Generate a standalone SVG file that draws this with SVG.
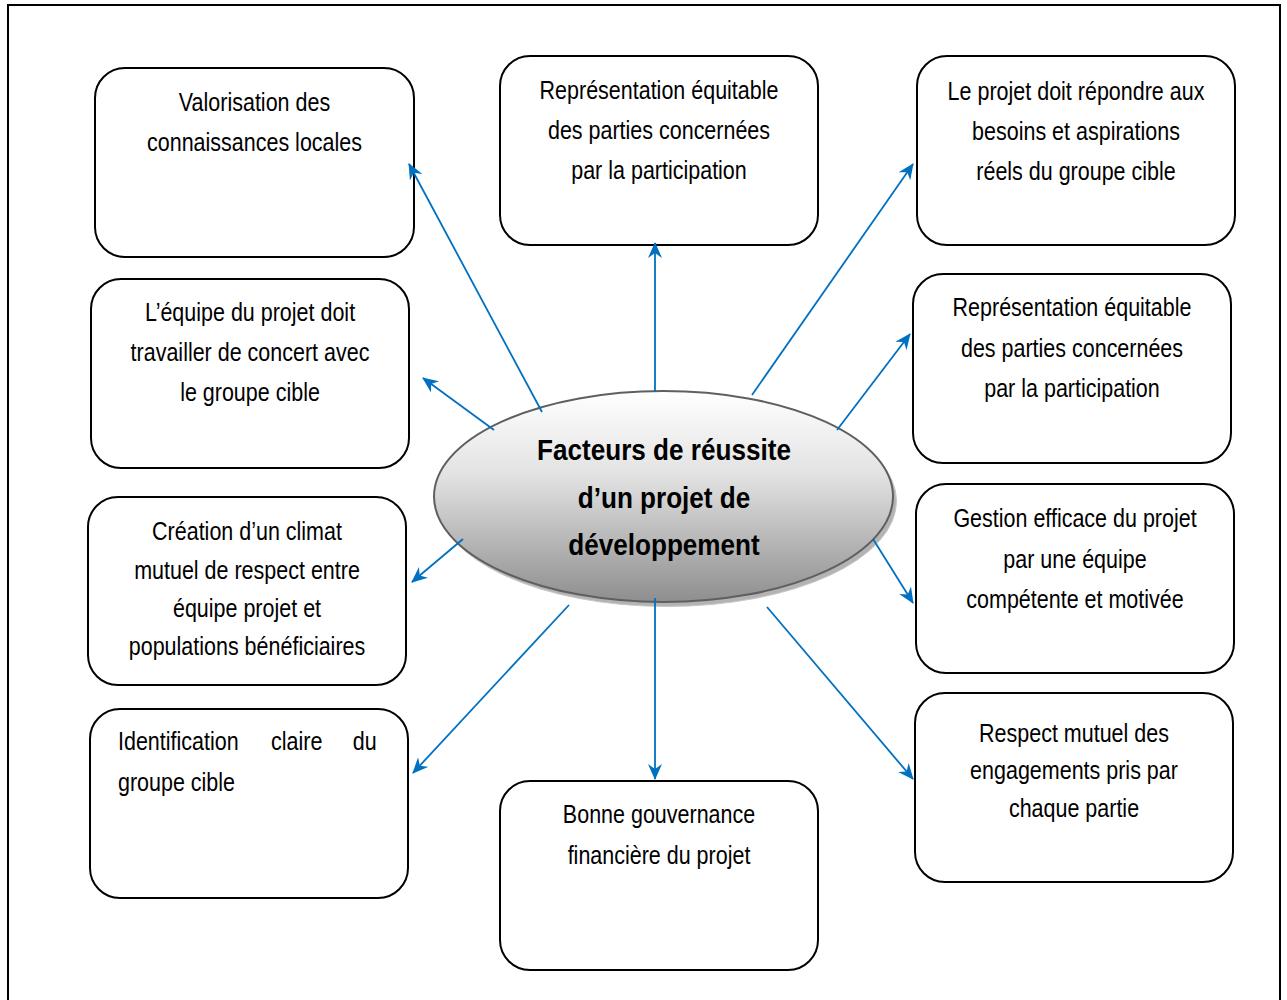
<svg xmlns="http://www.w3.org/2000/svg" width="1287" height="1000" viewBox="0 0 1287 1000">
<style>
.box{fill:#fff;stroke:#000;stroke-width:2}
.t{font-family:"Liberation Sans",Arial,sans-serif;font-size:25px;fill:#000;text-anchor:middle}
.tl{font-family:"Liberation Sans",Arial,sans-serif;font-size:25px;fill:#000}
.ct{font-family:"Liberation Sans",Arial,sans-serif;font-size:30px;font-weight:bold;fill:#000;text-anchor:middle}
.arr{stroke:#0070C0;stroke-width:1.8;fill:none;marker-end:url(#ah)}
</style>
<defs>
<marker id="ah" viewBox="0 0 16 14" refX="15" refY="7" markerWidth="16" markerHeight="14" markerUnits="userSpaceOnUse" orient="auto">
<path d="M0,0 L16,7 L0,14 L5,7 z" fill="#0070C0"/>
</marker>
<linearGradient id="eg" x1="0" y1="0" x2="0" y2="1">
<stop offset="0" stop-color="#ffffff"/>
<stop offset="0.4" stop-color="#e2e2e2"/>
<stop offset="1" stop-color="#8e8e8e"/>
</linearGradient>
</defs>
<rect x="0" y="0" width="1287" height="1000" fill="#fff"/>
<path d="M8,1002 V5 H1280 V1002" fill="none" stroke="#000" stroke-width="2"/>

<g id="n1">
<rect class="box" x="95" y="68" width="319" height="189" rx="30"/>
<g transform="translate(254.5,0) scale(0.86,1)">
<text class="t" x="0" y="111">Valorisation des</text>
<text class="t" x="0" y="151">connaissances locales</text>
</g>
</g>

<g id="n2">
<rect class="box" x="500" y="56" width="318" height="189" rx="30"/>
<g transform="translate(659,0) scale(0.86,1)">
<text class="t" x="0" y="99">Représentation équitable</text>
<text class="t" x="0" y="139">des parties concernées</text>
<text class="t" x="0" y="179">par la participation</text>
</g>
</g>

<g id="n3">
<rect class="box" x="917" y="56" width="318" height="189" rx="30"/>
<g transform="translate(1076,0) scale(0.86,1)">
<text class="t" x="0" y="100">Le projet doit répondre aux</text>
<text class="t" x="0" y="140">besoins et aspirations</text>
<text class="t" x="0" y="180">réels du groupe cible</text>
</g>
</g>

<g id="n4">
<rect class="box" x="91" y="279" width="318" height="189" rx="30"/>
<g transform="translate(250,0) scale(0.86,1)">
<text class="t" x="0" y="321">L’équipe du projet doit</text>
<text class="t" x="0" y="361">travailler de concert avec</text>
<text class="t" x="0" y="401">le groupe cible</text>
</g>
</g>

<g id="n5">
<rect class="box" x="913" y="274" width="318" height="189" rx="30"/>
<g transform="translate(1072,0) scale(0.86,1)">
<text class="t" x="0" y="316">Représentation équitable</text>
<text class="t" x="0" y="357">des parties concernées</text>
<text class="t" x="0" y="397">par la participation</text>
</g>
</g>

<g id="n6">
<rect class="box" x="88" y="497" width="318" height="188" rx="30"/>
<g transform="translate(247,0) scale(0.86,1)">
<text class="t" x="0" y="540">Création d’un climat</text>
<text class="t" x="0" y="579">mutuel de respect entre</text>
<text class="t" x="0" y="617">équipe projet et</text>
<text class="t" x="0" y="655">populations bénéficiaires</text>
</g>
</g>

<g id="n7">
<rect class="box" x="916" y="484" width="318" height="189" rx="30"/>
<g transform="translate(1075,0) scale(0.86,1)">
<text class="t" x="0" y="527">Gestion efficace du projet</text>
<text class="t" x="0" y="568">par une équipe</text>
<text class="t" x="0" y="608">compétente et motivée</text>
</g>
</g>

<g id="n8">
<rect class="box" x="90" y="709" width="318" height="189" rx="30"/>
<g transform="translate(118,0) scale(0.86,1)">
<text class="tl" y="750"><tspan x="0">Identification</tspan><tspan x="178">claire</tspan><tspan x="273">du</tspan></text>
<text class="tl" x="0" y="791">groupe cible</text>
</g>
</g>

<g id="n9">
<rect class="box" x="915" y="693" width="318" height="189" rx="30"/>
<g transform="translate(1074,0) scale(0.86,1)">
<text class="t" x="0" y="742">Respect mutuel des</text>
<text class="t" x="0" y="779">engagements pris par</text>
<text class="t" x="0" y="817">chaque partie</text>
</g>
</g>

<g id="n10">
<rect class="box" x="500" y="781" width="318" height="189" rx="30"/>
<g transform="translate(659,0) scale(0.86,1)">
<text class="t" x="0" y="823">Bonne gouvernance</text>
<text class="t" x="0" y="864">financière du projet</text>
</g>
</g>

<g id="center">
<ellipse cx="667" cy="501" rx="229.5" ry="105.5" fill="#b3b3b3" stroke="#c8c8c8" stroke-width="1"/>
<ellipse cx="663.5" cy="496.5" rx="229.5" ry="105.5" fill="url(#eg)" stroke="#5f5f5f" stroke-width="2"/>
<g transform="translate(664,0) scale(0.87,1)">
<text class="ct" x="0" y="460">Facteurs de réussite</text>
<text class="ct" x="0" y="508">d’un projet de</text>
<text class="ct" x="0" y="555">développement</text>
</g>
</g>

<g id="connectors">
<line class="arr" x1="542" y1="412" x2="409" y2="164"/>
<line class="arr" x1="655" y1="392" x2="655" y2="243"/>
<line class="arr" x1="752" y1="395" x2="913" y2="164"/>
<line class="arr" x1="494" y1="430" x2="423" y2="378"/>
<line class="arr" x1="837" y1="430" x2="910" y2="334"/>
<line class="arr" x1="463" y1="539" x2="412" y2="582"/>
<line class="arr" x1="873" y1="539" x2="913" y2="603"/>
<line class="arr" x1="569" y1="605" x2="413" y2="773"/>
<line class="arr" x1="655" y1="598" x2="655" y2="779"/>
<line class="arr" x1="767" y1="607" x2="913" y2="779"/>
</g>
</svg>
